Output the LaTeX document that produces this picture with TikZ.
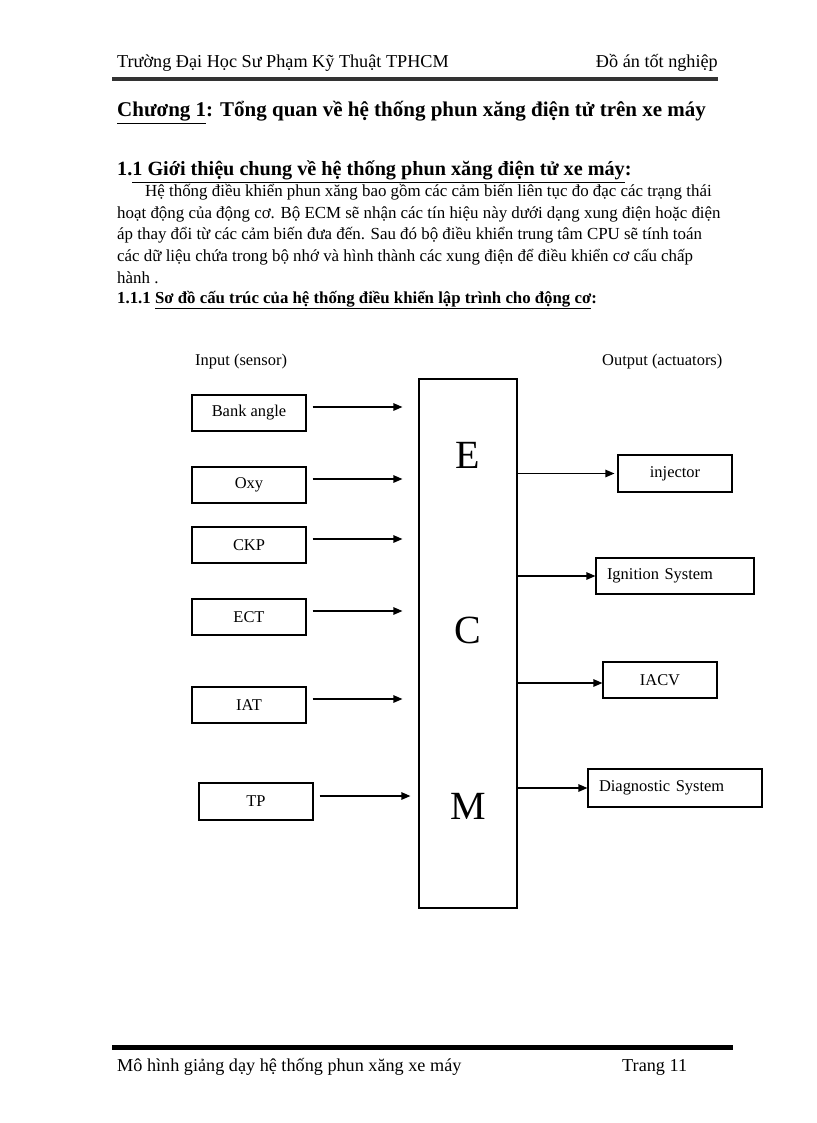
\documentclass[tikz,border=0pt]{standalone}
\usepackage{fontspec}
\setmainfont{Liberation Serif}
\usetikzlibrary{arrows.meta}
\newcommand{\fsN}{\fontsize{16.45}{20}\selectfont}
\newcommand{\fsP}{\fontsize{16.9}{20}\selectfont}
\newcommand{\fsH}{\fontsize{18.2}{22}\selectfont}
\newcommand{\fsT}{\fontsize{21}{25}\selectfont\bfseries}
\newcommand{\fsS}{\fontsize{20.2}{24}\selectfont\bfseries}
\newcommand{\fsB}{\fontsize{16.8}{20}\selectfont\bfseries}
\newcommand{\fsL}{\fontsize{40}{44}\selectfont}
\tikzset{
  txt/.style={anchor=base west, inner sep=0pt, font=\fsN},
  ptxt/.style={txt, font=\fsP},
  htxt/.style={txt, font=\fsH},
  sbox/.style={draw, line width=1.2pt, minimum width=114pt, minimum height=36pt, inner sep=0pt, font=\fsN},
  lbox/.style={draw, line width=1.2pt, minimum height=36pt, inner ysep=0pt, inner xsep=11pt, align=left, font=\fsN},
  arr/.style={line width=1.2pt, -{Triangle[length=9pt,width=7.5pt]}},
  big/.style={inner sep=0pt, font=\fsL}
}
\begin{document}
\begin{tikzpicture}[x=1pt,y=-1pt]
\useasboundingbox (0,0) rectangle (816,1123);
% header
\node[htxt] (h1) at (117,68) {Trường Đại Học Sư Phạm Kỹ Thuật TPHCM};
\node[htxt, anchor=base east] (h2) at (718,68) {Đồ án tốt nghiệp};
\coordinate (hl1) at (112,79);
\coordinate (hl2) at (718,79);
\draw[line width=4pt, black!80] (hl1) -- (hl2);
% title
\node[txt, font=\fsT] (title) at (117,117) {\underline{Chương 1}: Tổng quan về hệ thống phun xăng điện tử trên xe máy};
\node[txt, font=\fsS] (sec) at (117,176) {1.\underline{1 Giới thiệu chung về hệ thống phun xăng điện tử xe máy}:};
\node[ptxt] (p1) at (145,197) {Hệ thống điều khiển phun xăng bao gồm các cảm biến liên tục đo đạc các trạng thái};
\node[ptxt] (p2) at (117,218.5) {hoạt động của động cơ. Bộ ECM sẽ nhận các tín hiệu này dưới dạng xung điện hoặc điện};
\node[ptxt] (p3) at (117,240) {áp thay đổi từ các cảm biến đưa đến. Sau đó bộ điều khiển trung tâm CPU sẽ tính toán};
\node[ptxt] (p4) at (117,261.5) {các dữ liệu chứa trong bộ nhớ và hình thành các xung điện để điều khiển cơ cấu chấp};
\node[ptxt] (p5) at (117,283) {hành .};
\node[txt, font=\fsB] (sub) at (117,303) {1.1.1 \underline{Sơ đồ cấu trúc của hệ thống điều khiển lập trình cho động cơ}:};
% diagram labels
\node[txt] (inp) at (195,365) {Input (sensor)};
\node[txt] (outp) at (602,365) {Output (actuators)};
% ECM
\node[draw, line width=1.2pt, minimum width=98pt, minimum height=529pt, inner sep=0pt] (ecm) at (468,643.5) {};
\node[big] (lE) at (468,455) {E};
\node[big] (lC) at (468,630) {C};
\node[big] (lM) at (468,806) {M};
% sensors
\node[sbox] (bank) at (249,413) {Bank angle};
\node[sbox] (oxy) at (249,485) {Oxy};
\node[sbox] (ckp) at (249,545) {CKP};
\node[sbox] (ect) at (249,617) {ECT};
\node[sbox] (iat) at (249,705) {IAT};
\node[sbox, minimum height=37pt] (tp) at (256,801.5) {TP};
\foreach \n in {bank,oxy,ckp,ect,iat}{
  \path (\n.east) ++(6pt,6pt) coordinate (\n-s);
  \draw[arr, shorten >=16pt] (\n-s) -- (\n-s -| ecm.west);
}
\path (tp.east) ++(6pt,5.5pt) coordinate (tp-s);
\draw[arr, shorten >=8pt] (tp-s) -- (tp-s -| ecm.west);
% actuators
\node[sbox, minimum height=37pt] (inj) at (675,473.5) {injector};
\node[lbox, text width=136pt] (ign) at (675,576) {Ignition System};
\node[sbox] (iacv) at (660,680) {IACV};
\node[lbox, text width=152pt, minimum height=38pt] (diag) at (675,788) {Diagnostic System};
\draw[arr, shorten >=3pt] (ecm.east |- inj.west) -- (inj.west);
\draw[arr] (ecm.east |- ign.west) -- (ign.west);
\path (iacv.west) ++(0pt,-3pt) coordinate (iacv-w);
\draw[arr] (ecm.east |- iacv-w) -- (iacv-w);
\draw[arr] (ecm.east |- diag.west) -- (diag.west);
% footer
\coordinate (fl1) at (112,1047);
\coordinate (fl2) at (733,1047);
\draw[line width=5pt] (fl1) -- (fl2);
\node[htxt] (f1) at (117,1071) {Mô hình giảng dạy hệ thống phun xăng xe máy};
\node[htxt] (f2) at (622,1071) {Trang 11};
\end{tikzpicture}
\end{document}
